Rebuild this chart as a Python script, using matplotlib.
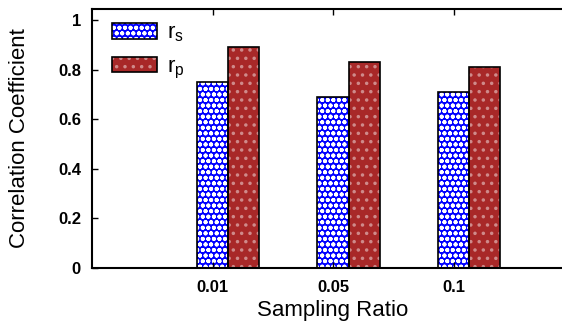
import numpy as np
import matplotlib.pyplot as plt
from matplotlib.patches import Patch
from matplotlib.legend_handler import HandlerTuple

plt.rcParams['font.family'] = ['Liberation Sans', 'DejaVu Sans']
plt.rcParams['hatch.linewidth'] = 1.3

ratios = ['0.01', '0.05', '0.1']
r_s = [0.752, 0.690, 0.712]
r_p = [0.893, 0.833, 0.813]

x = np.arange(len(ratios))
w = 0.26
blue, red = '#0000ff', '#a82828'

fig = plt.figure(figsize=(5.62, 3.21), dpi=100)
ax = fig.add_axes([92 / 562, 53 / 321, 482 / 562, 259 / 321])

# fill with pattern, then outline on top
ax.bar(x, r_s, w, color=blue, edgecolor='white', hatch='ooo', linewidth=0)
ax.bar(x + w, r_p, w, color=red, edgecolor='#cf8a8a', hatch='..', linewidth=0)
ax.bar(x, r_s, w, fill=False, edgecolor='black', linewidth=1.2)
ax.bar(x + w, r_p, w, fill=False, edgecolor='black', linewidth=1.2)

h1 = (Patch(facecolor=blue, edgecolor='white', hatch='ooo', linewidth=0),
      Patch(fill=False, edgecolor='black', linewidth=1.2))
h2 = (Patch(facecolor=red, edgecolor='#cf8a8a', hatch='..', linewidth=0),
      Patch(fill=False, edgecolor='black', linewidth=1.2))
ax.legend([h1, h2], [r'$\mathregular{r_s}$', r'$\mathregular{r_p}$'],
          handler_map={tuple: HandlerTuple(ndivide=1, pad=0)},
          loc='upper left', bbox_to_anchor=(0.042, 0.948), frameon=False,
          borderpad=0, borderaxespad=0,
          handlelength=2.0, handleheight=0.72, fontsize=16,
          labelspacing=0.55, handletextpad=0.45)

ax.set_xlim(-1, 3)
ax.set_ylim(0, 1.045)
ax.set_xticks(x)
ax.set_xticklabels(ratios)
ax.set_yticks([0, 0.2, 0.4, 0.6, 0.8, 1.0])
ax.set_yticklabels(['0', '0.2', '0.4', '0.6', '0.8', '1'])
ax.tick_params(direction='in', length=4, width=1, labelsize=12, top=True, right=False)
ax.tick_params(axis='x', pad=9)
ax.tick_params(axis='y', pad=8)
for t in ax.get_xticklabels() + ax.get_yticklabels():
    t.set_fontweight('bold')
for s in ax.spines.values():
    s.set_linewidth(1.5)

ax.set_xlabel('Sampling Ratio', fontsize=16, labelpad=3)
ax.set_ylabel('Correlation Coefficient', fontsize=16, labelpad=20)

fig.savefig('out.png', dpi=100)
